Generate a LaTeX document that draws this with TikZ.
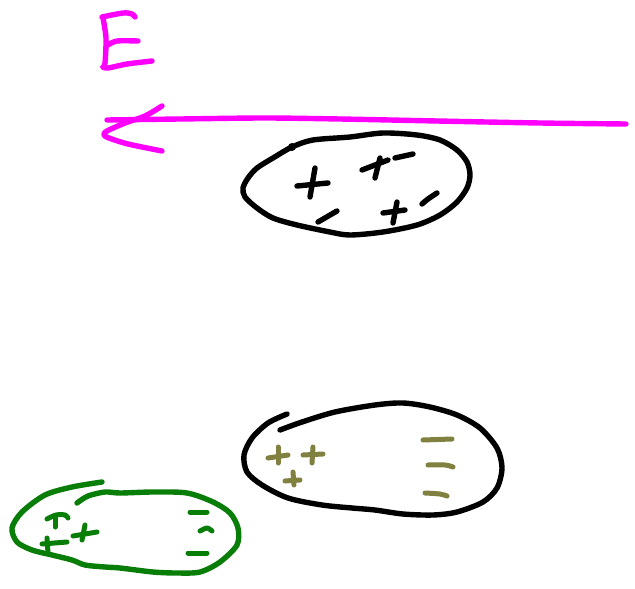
\documentclass[tikz,border=0pt]{standalone}
\begin{document}
\begin{tikzpicture}[x=1pt,y=-1pt,
  ink/.style={line width=5.4pt,line cap=round,line join=round},
  fine/.style={line width=5pt,line cap=round,line join=round}]
\definecolor{fieldpink}{RGB}{255,0,255}
\definecolor{chargeolive}{RGB}{128,128,64}
\definecolor{leafgreen}{RGB}{8,125,8}
\useasboundingbox[fill=white] (0,0) rectangle (635,589);

% field label E
\begin{scope}[ink,fieldpink]
  \draw plot[smooth] coordinates {(102,17) (123,13) (132,14) (135,17)};
  \draw plot[smooth] coordinates {(103,18) (106,38) (105,63) (103,67)};
  \draw plot[smooth] coordinates {(108,45) (117,41) (138,41)};
  \draw plot[smooth] coordinates {(103,67) (108,68) (127,64) (152,61)};
  % field arrow
  \draw plot[smooth] coordinates {(107,120) (180,119) (264,118) (340,119) (437,121) (540,123) (626,124)};
  \draw plot[smooth] coordinates {(162,106) (145,116) (125,123) (107,131) (104,135) (109,138) (128,144) (162,151)};
\end{scope}

% upper body
\begin{scope}[ink,black]
  \draw plot[smooth cycle] coordinates {(292,147) (313,140) (350,137) (383,133) (417,135) (440,140)
    (457,150) (467,162) (470,175) (467,188) (457,202) (440,215) (417,225) (383,232)
    (350,235) (330,232) (297,225) (273,218) (257,208) (245,197) (243,188) (248,178)
    (257,168) (273,158)};
  \fill (292,147) circle (4pt);
  % charges
  \draw (297,186) -- (328,183);
  \draw (315,168) -- (310,197);
  \draw (318,222) -- (337,211);
  \draw (362,170) -- (388,160);
  \draw (380,158) -- (375,178);
  \draw (395,158) -- (413,154);
  \draw (383,213) -- (405,210);
  \draw (397,202) -- (393,223);
  \draw plot[smooth] coordinates {(422,204) (428,199) (437,193)};
\end{scope}

% lower right body
\begin{scope}[ink,black]
  \draw plot[smooth] coordinates {(287,414) (268,423) (252,438) (244,455) (247,472) (262,485)
    (288,498) (322,505) (352,508) (375,510) (403,514) (433,515) (457,512) (483,502)
    (497,488) (502,468) (497,448) (480,428) (457,415) (430,407) (403,403) (375,405)
    (335,412) (302,422) (280,430)};
\end{scope}
\begin{scope}[fine,chargeolive]
  \draw (268,458) -- (288,455);
  \draw (278,447) -- (278,463);
  \draw (303,455) -- (323,454);
  \draw (313,447) -- (312,463);
  \draw (285,481) -- (300,480);
  \draw (293,472) -- (294,485);
  \draw (423,440) -- (452,439);
  \draw plot[smooth] coordinates {(428,465) (445,465) (453,467)};
  \draw plot[smooth] coordinates {(425,493) (440,494) (447,496)};
\end{scope}

% lower left body
\begin{scope}[ink,leafgreen]
  \draw plot[smooth] coordinates {(102,482) (72,487) (45,495) (22,512) (12,528) (17,542)
    (32,550) (52,555) (72,560) (85,565) (105,567) (120,568) (153,572) (177,573)
    (200,572) (220,562) (237,545) (238,528) (230,513) (213,502) (187,493) (153,492)
    (120,493) (105,492) (88,496) (77,503)};
\end{scope}
\begin{scope}[fine,leafgreen]
  \draw plot[smooth] coordinates {(47,519) (56,515) (65,515) (68,518)};
  \draw (55,517) -- (55,527);
  \draw (73,536) -- (97,532);
  \draw (85,525) -- (82,540);
  \draw (42,544) -- (67,542);
  \draw (47,538) -- (48,553);
  \draw (190,512) -- (207,512);
  \draw plot[smooth] coordinates {(200,531) (207,528) (212,531)};
  \draw (188,553) -- (207,553);
\end{scope}
\end{tikzpicture}
\end{document}
